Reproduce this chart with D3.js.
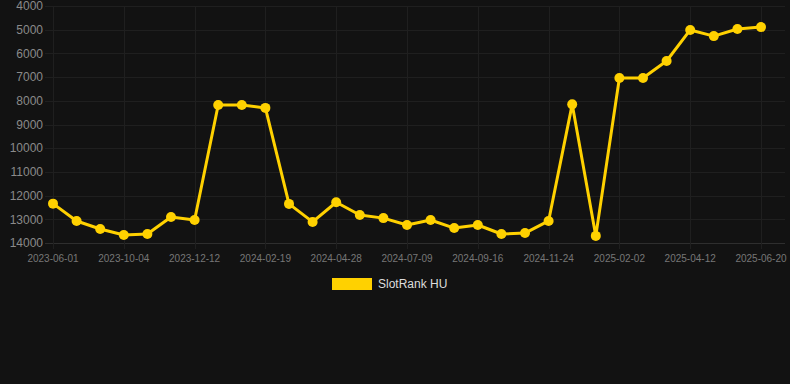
<!DOCTYPE html>
<html>
<head>
<meta charset="utf-8">
<script src="https://d3js.org/d3.v7.min.js"></script>
<style>
  html, body { margin: 0; padding: 0; background: #121212; }
  svg { display: block; font-family: Arial, "Liberation Sans", sans-serif; }
</style>
</head>
<body>
<div id="chart"></div>
<script>
// dates on the category axis (only every 3rd one is labelled)
const dates = [
  "2023-06-01", "2023-07-12", "2023-08-23", "2023-10-04", "2023-10-27", "2023-11-19",
  "2023-12-12", "2024-01-04", "2024-01-27", "2024-02-19", "2024-03-13", "2024-04-05",
  "2024-04-28", "2024-05-22", "2024-06-15", "2024-07-09", "2024-08-01", "2024-08-24",
  "2024-09-16", "2024-10-09", "2024-11-01", "2024-11-24", "2024-12-17", "2025-01-09",
  "2025-02-02", "2025-02-25", "2025-03-20", "2025-04-12", "2025-05-05", "2025-05-28",
  "2025-06-20"
];
const rank = [
  12340, 13070, 13410, 13660, 13620, 12900,
  13030, 8180, 8180, 8300, 12350, 13110,
  12280, 12820, 12950, 13240, 13030, 13370,
  13240, 13620, 13580, 13070, 8150, 13700,
  7040, 7040, 6320, 5010, 5270, 4970,
  4890
];
const yTicks = [4000, 5000, 6000, 7000, 8000, 9000, 10000, 11000, 12000, 13000, 14000];
const seriesName = "SlotRank HU";

const width = 790, height = 384;
const margin = {top: 6, right: 5, bottom: 141, left: 45};
const lineColor = "#ffd100";

const svg = d3.select("#chart").append("svg")
  .attr("width", width)
  .attr("height", height);

svg.append("rect").attr("width", width).attr("height", height).attr("fill", "#121212");

const x = d3.scalePoint()
  .domain(dates)
  .range([margin.left + 8, width - margin.right - 24]);

const y = d3.scaleLinear()
  .domain([4000, 14000])
  .range([margin.top, height - margin.bottom]);

const labelled = dates.filter((d, i) => i % 3 === 0);

// horizontal grid
svg.append("g")
  .selectAll("line")
  .data(yTicks)
  .join("line")
    .attr("x1", margin.left)
    .attr("x2", width - margin.right)
    .attr("y1", d => Math.round(y(d)) + 0.5)
    .attr("y2", d => Math.round(y(d)) + 0.5)
    .attr("stroke", d => d === 14000 ? "#2e2e2e" : "#1f1f1f");

// vertical grid + small ticks
svg.append("g")
  .selectAll("line")
  .data(labelled)
  .join("line")
    .attr("x1", d => Math.round(x(d)) + 0.5)
    .attr("x2", d => Math.round(x(d)) + 0.5)
    .attr("y1", margin.top)
    .attr("y2", y(14000) + 6)
    .attr("stroke", "#1f1f1f");

// y axis labels
svg.append("g")
  .selectAll("text")
  .data(yTicks)
  .join("text")
    .attr("x", margin.left - 2)
    .attr("y", d => y(d))
    .attr("dy", "0.35em")
    .attr("text-anchor", "end")
    .attr("fill", "#8a8a8a")
    .attr("font-size", 12)
    .text(d => d);

// x axis labels
svg.append("g")
  .selectAll("text")
  .data(labelled)
  .join("text")
    .attr("x", d => x(d))
    .attr("y", y(14000) + 19)
    .attr("text-anchor", "middle")
    .attr("fill", "#777")
    .attr("font-size", 10)
    .text(d => d);

const pts = dates.map((d, i) => ({date: d, value: rank[i]}));

svg.append("path")
  .datum(pts)
  .attr("fill", "none")
  .attr("stroke", lineColor)
  .attr("stroke-width", 3)
  .attr("stroke-linejoin", "round")
  .attr("d", d3.line().x(d => x(d.date)).y(d => y(d.value)));

svg.append("g")
  .selectAll("circle")
  .data(pts)
  .join("circle")
    .attr("cx", d => x(d.date))
    .attr("cy", d => y(d.value))
    .attr("r", 5)
    .attr("fill", lineColor);

// legend
const lg = svg.append("g").attr("transform", "translate(332,278)");
lg.append("rect").attr("width", 40).attr("height", 12).attr("fill", lineColor);
lg.append("text")
  .attr("x", 46)
  .attr("y", 6)
  .attr("dy", "0.35em")
  .attr("fill", "#ddd")
  .attr("font-size", 12)
  .text(seriesName);
</script>
</body>
</html>
